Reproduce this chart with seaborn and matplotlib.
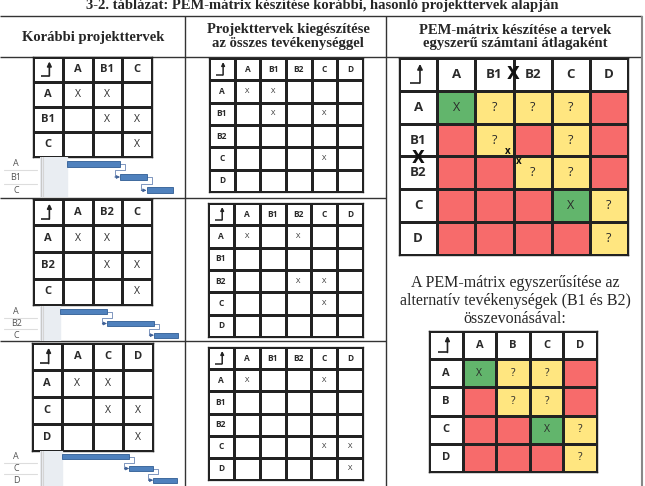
"""
Table 3-2: building a PEM matrix from earlier, similar project plans.

Left column: the earlier plans (dependency matrix + small Gantt chart),
middle: the plans extended to every activity, right: the resulting PEM
matrix and its simplified form.
"""

import numpy as np
import matplotlib
matplotlib.use("Agg")
import matplotlib.pyplot as plt
import seaborn as sns
from matplotlib.colors import ListedColormap
from matplotlib.transforms import blended_transform_factory

W, H = 645, 486

# earlier project plans: activities, dependency cells, schedule (days)
plan1_tasks = ["A", "B1", "C"]
plan1_cells = [["X", "X", ""], ["", "X", "X"], ["", "", "X"]]
plan1_start = [0, 10, 15]
plan1_dur = [10, 5, 5]

plan2_tasks = ["A", "B2", "C"]
plan2_cells = [["X", "X", ""], ["", "X", "X"], ["", "", "X"]]
plan2_start = [0, 10, 20]
plan2_dur = [10, 10, 5]

plan3_tasks = ["A", "C", "D"]
plan3_cells = [["X", "X", ""], ["", "X", "X"], ["", "", "X"]]
plan3_start = [0, 14, 19]
plan3_dur = [14, 5, 5]

# plans extended with all activities
all_tasks = ["A", "B1", "B2", "C", "D"]
ext1_cells = [["X", "X", "", "", ""],
              ["", "X", "", "X", ""],
              ["", "", "", "", ""],
              ["", "", "", "X", ""],
              ["", "", "", "", ""]]
ext2_cells = [["X", "", "X", "", ""],
              ["", "", "", "", ""],
              ["", "", "X", "X", ""],
              ["", "", "", "X", ""],
              ["", "", "", "", ""]]
ext3_cells = [["X", "", "", "X", ""],
              ["", "", "", "", ""],
              ["", "", "", "", ""],
              ["", "", "", "X", "X"],
              ["", "", "", "", "X"]]

# PEM matrix as the simple average of the plans
pem_cells = [["X", "?", "?", "?", ""],
             ["", "?", "", "?", ""],
             ["", "", "?", "?", ""],
             ["", "", "", "X", "?"],
             ["", "", "", "", "?"]]

# simplified PEM matrix (B1 and B2 merged into B)
merged_tasks = ["A", "B", "C", "D"]
merged_cells = [["X", "?", "?", ""],
                ["", "?", "?", ""],
                ["", "", "X", "?"],
                ["", "", "", "?"]]

GREEN, YELLOW, RED = "#62b56c", "#ffe680", "#f76b6b"
CODE = {"X": 1, "?": 2, "": 3}
CMAP = ListedColormap(["white", GREEN, YELLOW, RED])
LINE = "#222222"
SERIF = "Liberation Serif"
SANS = "Open Sans"

sns.set_theme(style="white")
fig = plt.figure(figsize=(W / 100, H / 100), dpi=100)


def px_axes(x0, y0, x1, y1):
    """Add an axes given its pixel box (origin top-left)."""
    return fig.add_axes([x0 / W, 1 - y1 / H, (x1 - x0) / W, (y1 - y0) / H])


def draw_matrix(box, tasks, cells, head_size, cell_size, colored=False, lw=1.0):
    """Dependency matrix with header row/column drawn as a seaborn heatmap."""
    n = len(tasks)
    codes = np.zeros((n + 1, n + 1))
    labels = np.full((n + 1, n + 1), "", dtype=object)
    labels[0, 1:] = tasks
    labels[1:, 0] = tasks
    for i in range(n):
        for j in range(n):
            labels[i + 1, j + 1] = cells[i][j]
            if colored:
                codes[i + 1, j + 1] = CODE[cells[i][j]]

    ax = px_axes(*box)
    sns.heatmap(codes, ax=ax, cmap=CMAP, vmin=0, vmax=3, cbar=False,
                annot=labels, fmt="", linewidths=lw, linecolor=LINE,
                xticklabels=False, yticklabels=False,
                annot_kws={"family": SANS})
    for t in ax.texts:
        t.set_color("#2a2a2a")
        if t.get_text() in tasks:
            t.set_fontweight("bold")
            t.set_fontsize(head_size)
        else:
            t.set_fontsize(cell_size)
    for s in ax.spines.values():
        s.set_visible(True)
        s.set_linewidth(lw)
        s.set_color(LINE)

    # corner symbol: bent arrow pointing up
    ax.plot([0.28, 0.55], [0.75, 0.75], color=LINE, lw=lw * 1.2,
            solid_capstyle="butt")
    ax.annotate("", xy=(0.55, 0.18), xytext=(0.55, 0.76),
                arrowprops=dict(arrowstyle="-|>", color=LINE, lw=lw * 1.2,
                                mutation_scale=head_size * 0.8,
                                shrinkA=0, shrinkB=0))
    return ax


def draw_gantt(box, tasks, start, dur, x0_px, px_per_day):
    """Small Gantt chart with task labels on the left."""
    ax = px_axes(*box)
    xl = ((box[0] - x0_px) / px_per_day, (box[2] - x0_px) / px_per_day)
    n = len(tasks)
    ax.axvspan(xl[0], 0, color="#e9edf2", zorder=0)
    ax.axvline(xl[0] + 0.15, color="#c8c8c8", lw=0.8)
    ax.axvline(xl[0] + 0.6, color="#d5d5d5", lw=0.8)
    ax.barh(np.arange(n), dur, left=start, height=0.45,
            color="#4f81bd", edgecolor="#2f5c94", lw=0.6, zorder=3)
    ends = np.array(start) + np.array(dur)
    step = 1.0  # small horizontal jog of the link lines, in days
    for i in range(n - 1):
        xa, xb = ends[i], start[i + 1]
        ax.plot([xa, xa + step, xa + step, xb - step, xb - step],
                [i, i, i + 0.5, i + 0.5, i + 1],
                color="#6a86b4", lw=0.6, zorder=2)
        ax.annotate("", xy=(xb, i + 1), xytext=(xb - step, i + 1),
                    arrowprops=dict(arrowstyle="-|>", color="#3d5f96",
                                    lw=0.6, mutation_scale=5,
                                    shrinkA=0, shrinkB=0), zorder=4)
    tr = blended_transform_factory(ax.transAxes, ax.transData)
    for i, name in enumerate(tasks):
        ax.text(-0.165, i, name, transform=tr, ha="center", va="center",
                fontsize=6.5, color="#555555", family=SANS)
    for i in range(1, n):
        ax.plot([-0.25, -0.02], [i - 0.5, i - 0.5], transform=tr,
                color="#dddddd", lw=0.8, clip_on=False)
    ax.set_xlim(*xl)
    ax.set_ylim(n - 0.5, -0.5)
    ax.set_axis_off()
    return ax


# frame of the table, titles and separators
ax0 = fig.add_axes([0, 0, 1, 1])
ax0.set_xlim(0, W)
ax0.set_ylim(H, 0)
ax0.set_axis_off()
ax0.text(W / 2, 6, "3-2. táblázat: PEM-mátrix készítése korábbi, hasonló projekttervek alapján",
         ha="center", va="center", fontsize=10.5, fontweight="bold", family=SERIF)
ax0.hlines([16, 57], 0, 642, color="#333333", lw=1.0)
ax0.hlines([198, 341], 0, 386, color="#333333", lw=1.0)
ax0.vlines([185, 386], 16, H, color="#333333", lw=1.0)
ax0.vlines([642], 16, H, color="#888888", lw=1.5)
ax0.text(93, 37, "Korábbi projekttervek", ha="center", va="center",
         fontsize=10.5, fontweight="bold", family=SERIF)
ax0.text(288, 37, "Projekttervek kiegészítése\naz összes tevékenységgel",
         ha="center", va="center", fontsize=10.5, fontweight="bold",
         family=SERIF, linespacing=1.1)
ax0.text(515, 37, "PEM-mátrix készítése a tervek\negyszerű számtani átlagaként",
         ha="center", va="center", fontsize=10.5, fontweight="bold",
         family=SERIF, linespacing=1.1)
ax0.text(515, 301, "A PEM-mátrix egyszerűsítése az\nalternatív tevékenységek (B1 és B2)\nösszevonásával:",
         ha="center", va="center", fontsize=11.5, family=SERIF, linespacing=1.2)

# earlier plans
draw_matrix((33, 57, 152, 157), plan1_tasks, plan1_cells, 8, 7.5)
draw_gantt((40, 157, 185, 197), plan1_tasks, plan1_start, plan1_dur, 67, 5.3)
draw_matrix((33, 199, 152, 305), plan2_tasks, plan2_cells, 8, 7.5)
draw_gantt((40, 306, 185, 341), plan2_tasks, plan2_start, plan2_dur, 60, 4.7)
draw_matrix((32, 343, 153, 451), plan3_tasks, plan3_cells, 8, 7.5)
draw_gantt((40, 451, 185, 486), plan3_tasks, plan3_start, plan3_dur, 62, 4.8)

# extended plans
draw_matrix((209, 58, 363, 192), all_tasks, ext1_cells, 6, 5.5, lw=0.9)
draw_matrix((208, 203, 363, 337), all_tasks, ext2_cells, 6, 5.5, lw=0.9)
draw_matrix((208, 347, 363, 480), all_tasks, ext3_cells, 6, 5.5, lw=0.9)

# PEM matrix
axp = draw_matrix((399, 58, 628, 255), all_tasks, pem_cells, 9.5, 9,
                  colored=True, lw=1.0)
axp.text(3, 0.5, "X", ha="center", va="center", fontsize=12,
         fontweight="bold", color="#111111", family="DejaVu Sans")
axp.text(0.5, 3.05, "X", ha="center", va="center", fontsize=12,
         fontweight="bold", color="#111111", family="DejaVu Sans")
axp.text(2.86, 2.86, "x", ha="center", va="center", fontsize=7,
         fontweight="bold", color="#111111", family=SANS)
axp.text(3.14, 3.14, "x", ha="center", va="center", fontsize=7,
         fontweight="bold", color="#111111", family=SANS)

# simplified PEM matrix
draw_matrix((429, 331, 597, 472), merged_tasks, merged_cells, 8, 7.5,
            colored=True, lw=1.0)

fig.savefig("out.png", dpi=100)
